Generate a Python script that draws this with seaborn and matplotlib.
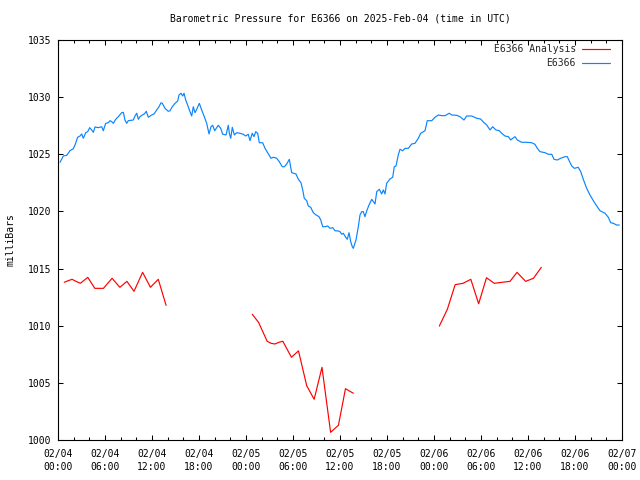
import matplotlib
matplotlib.use("Agg")
import matplotlib.pyplot as plt
import matplotlib.dates as mdates
import numpy as np
import pandas as pd
import seaborn as sns

# ---------------- data (hours after 2025-02-04 00:00 UTC, pressure in mb) ----------------
start = pd.Timestamp("2025-02-04 00:00")

station_hours = [
    0.26, 0.68, 1.11, 1.53, 1.95, 2.17, 2.51, 2.81, 3.03, 3.23, 3.54, 3.79, 4.05, 4.30, 4.51, 4.72,
    5.14, 5.58, 5.78, 6.09, 6.42, 6.64, 6.86, 7.06, 7.37, 7.70, 8.13, 8.34, 8.55, 8.77, 8.97, 9.61,
    9.83, 10.05, 10.25, 10.47, 10.76, 11.02, 11.27, 11.53, 11.96, 12.26, 12.60, 12.89, 13.15, 13.32,
    13.66, 14.08, 14.30, 14.59, 14.94, 15.28, 15.45, 15.70, 15.92, 16.09, 16.30, 16.63, 16.85, 17.07,
    17.27, 17.49, 17.71, 18.04, 18.34, 18.68, 18.98, 19.28, 19.53, 19.75, 20.00, 20.46, 20.77, 21.03,
    21.45, 21.74, 21.87, 22.05, 22.25, 22.51, 22.81, 23.23, 23.66, 23.96, 24.29, 24.51, 24.80, 25.02,
    25.24, 25.49, 25.70, 26.13, 26.43, 26.85, 27.19, 27.49, 27.92, 28.25, 28.63, 28.89, 29.20, 29.53,
    29.83, 30.38, 30.68, 31.02, 31.24, 31.44, 31.75, 31.95, 32.26, 32.59, 32.94, 33.32, 33.54, 33.79,
    34.09, 34.43, 34.72, 35.07, 35.36, 35.78, 36.00, 36.22, 36.42, 36.73, 36.93, 37.15, 37.37, 37.57,
    37.70, 38.04, 38.34, 38.55, 38.77, 38.97, 39.19, 39.41, 39.70, 40.05, 40.47, 40.69, 41.02, 41.32,
    41.53, 41.74, 41.96, 42.38, 42.73, 42.93, 43.15, 43.44, 43.66, 44.00, 44.30, 44.72, 45.15, 45.57,
    46.00, 46.30, 46.85, 47.14, 47.71, 48.13, 48.55, 48.98, 49.40, 49.95, 50.26, 50.90, 51.32, 51.83,
    52.17, 52.81, 53.45, 53.94, 54.29, 54.73, 55.15, 55.49, 55.91, 56.34, 56.64, 57.06, 57.49, 57.79,
    58.05, 58.34, 58.63, 59.20, 59.83, 60.47, 60.89, 61.19, 61.53, 62.17, 62.59, 63.03, 63.32, 63.74,
    64.17, 64.72, 65.02, 65.27, 65.58, 65.91, 66.42, 66.73, 67.06, 67.49, 67.91, 68.34, 68.77, 69.19,
    69.83, 70.25, 70.56, 70.89, 71.32, 71.66,
]
station_mb = [
    1024.30, 1024.85, 1024.91, 1025.31, 1025.49, 1025.81, 1026.49, 1026.60, 1026.78, 1026.40, 1026.89,
    1026.98, 1027.33, 1027.13, 1026.92, 1027.39, 1027.33, 1027.41, 1027.06, 1027.71, 1027.76, 1027.94,
    1027.85, 1027.71, 1028.06, 1028.29, 1028.64, 1028.67, 1028.00, 1027.71, 1027.94, 1028.00, 1028.35,
    1028.59, 1028.06, 1028.29, 1028.44, 1028.53, 1028.76, 1028.24, 1028.44, 1028.53, 1028.88, 1029.16,
    1029.51, 1029.46, 1029.02, 1028.76, 1028.81, 1029.16, 1029.46, 1029.66, 1030.19, 1030.34, 1030.10,
    1030.34, 1029.75, 1029.16, 1028.73, 1028.35, 1029.16, 1028.64, 1028.94, 1029.46, 1028.88, 1028.29,
    1027.71, 1026.78, 1027.41, 1027.54, 1027.06, 1027.54, 1027.27, 1026.75, 1026.69, 1027.54, 1026.84,
    1026.40, 1027.36, 1026.69, 1026.89, 1026.84, 1026.75, 1026.60, 1026.75, 1026.19, 1026.84, 1026.54,
    1026.98, 1026.84, 1026.01, 1026.01, 1025.52, 1025.03, 1024.65, 1024.74, 1024.65, 1024.35, 1023.91,
    1023.91, 1024.15, 1024.56, 1023.39, 1023.28, 1022.81, 1022.51, 1021.88, 1021.15, 1020.94, 1020.48,
    1020.36, 1019.89, 1019.69, 1019.54, 1019.25, 1018.66, 1018.66, 1018.73, 1018.52, 1018.58, 1018.31,
    1018.29, 1018.23, 1018.00, 1018.09, 1017.74, 1017.56, 1018.14, 1017.35, 1016.91, 1016.77, 1017.50,
    1018.66, 1019.69, 1019.98, 1019.98, 1019.54, 1020.04, 1020.56, 1021.06, 1020.65, 1021.73, 1021.94,
    1021.53, 1021.88, 1021.53, 1022.46, 1022.84, 1022.99, 1023.91, 1023.98, 1024.94, 1025.44, 1025.31,
    1025.52, 1025.52, 1025.90, 1025.96, 1026.40, 1026.84, 1027.06, 1027.94, 1027.94, 1028.24, 1028.44,
    1028.38, 1028.38, 1028.59, 1028.44, 1028.41, 1028.29, 1028.00, 1028.35, 1028.35, 1028.15, 1028.09,
    1027.83, 1027.56, 1027.13, 1027.41, 1027.13, 1027.06, 1026.84, 1026.60, 1026.54, 1026.25, 1026.40,
    1026.54, 1026.25, 1026.05, 1026.05, 1026.01, 1025.87, 1025.52, 1025.23, 1025.14, 1025.00, 1025.00,
    1024.56, 1024.50, 1024.65, 1024.79, 1024.79, 1024.41, 1023.98, 1023.77, 1023.86, 1023.48, 1022.81,
    1022.02, 1021.44, 1020.94, 1020.48, 1020.06, 1019.84, 1019.49, 1019.01, 1018.96, 1018.81, 1018.81,
]

analysis1_hours = [0.8, 1.3, 1.8, 2.3, 2.85, 3.8, 4.7, 5.8, 6.9, 7.9, 8.8, 9.7, 10.8, 11.8, 12.8, 13.8]
analysis1_mb = [1013.80, 1013.94, 1014.06, 1013.88, 1013.71, 1014.23, 1013.27, 1013.27,
                1014.15, 1013.36, 1013.88, 1013.01, 1014.67, 1013.36, 1014.06, 1011.78]
analysis2_hours = [24.8, 25.6, 26.7, 27.2, 27.7, 28.2, 28.7, 29.8, 30.7, 31.75, 32.7, 33.7,
                   34.8, 35.8, 36.7, 37.7]
analysis2_mb = [1011.00, 1010.30, 1008.64, 1008.46, 1008.40, 1008.55, 1008.64, 1007.24,
                1007.80, 1004.75, 1003.56, 1006.36, 1000.67, 1001.29, 1004.49, 1004.09]
analysis3_hours = [48.68, 49.7, 50.7, 51.7, 52.7, 53.7, 54.7, 55.7, 56.7, 57.7, 58.6, 59.7,
                   60.7, 61.7]
analysis3_mb = [1009.97, 1011.43, 1013.59, 1013.71, 1014.06, 1011.92, 1014.20, 1013.71,
                1013.80, 1013.88, 1014.67, 1013.88, 1014.15, 1015.11]

y_ticks = [1000, 1005, 1010, 1015, 1020, 1025, 1030, 1035]
title = "Barometric Pressure for E6366 on 2025-Feb-04 (time in UTC)"
y_label = "milliBars"
legend_labels = ["E6366 Analysis", "E6366"]

# ---------------- frames ----------------
def to_time(hours):
    return start + pd.to_timedelta(np.asarray(hours), unit="h")

df_station = pd.DataFrame({"time": to_time(station_hours), "mb": station_mb})
parts = []
for seg, (h, p) in enumerate([(analysis1_hours, analysis1_mb),
                              (analysis2_hours, analysis2_mb),
                              (analysis3_hours, analysis3_mb)]):
    parts.append(pd.DataFrame({"time": to_time(h), "mb": p, "segment": seg}))
df_analysis = pd.concat(parts, ignore_index=True)

# ---------------- style ----------------
sns.set_theme(style="ticks")
plt.rcParams["font.family"] = ["DejaVu Sans Mono", "DejaVu Sans"]
plt.rcParams["font.size"] = 7
plt.rcParams["axes.linewidth"] = 0.8
plt.rcParams["axes.edgecolor"] = "black"

fig = plt.figure(figsize=(6.4, 4.8), dpi=100)
ax = fig.add_axes([58 / 640, 40 / 480, 564 / 640, 400 / 480])

red = "#ff0000"
blue = "#0a84ff"
sns.lineplot(data=df_analysis, x="time", y="mb", units="segment", estimator=None,
             color=red, lw=0.85, ax=ax, legend=False)
n_red = len(ax.lines)
sns.lineplot(data=df_station, x="time", y="mb", estimator=None,
             color=blue, lw=0.85, ax=ax, legend=False)

ax.set_xlim(start, start + pd.Timedelta(hours=72))
ax.set_ylim(1000, 1035)
ax.set_yticks(y_ticks)
ax.xaxis.set_major_locator(mdates.HourLocator(byhour=[0, 6, 12, 18]))
ax.xaxis.set_minor_locator(mdates.HourLocator(byhour=list(range(0, 24, 2))))
ax.xaxis.set_major_formatter(mdates.DateFormatter("%m/%d\n%H:%M"))

for side in ["top", "right", "left", "bottom"]:
    ax.spines[side].set_visible(True)
    ax.spines[side].set_color("black")
    ax.spines[side].set_linewidth(0.8)

ax.tick_params(which="both", direction="in", top=True, right=True, color="black",
               width=0.75, labelcolor="black", labelsize=7)
ax.tick_params(which="major", length=3.5)
ax.tick_params(which="minor", length=2.0)
ax.tick_params(axis="x", which="major", pad=6.5)
ax.tick_params(axis="y", which="major", pad=4.5)

ax.set_xlabel("")
ax.set_ylabel(y_label, fontsize=7, color="black")
ax.yaxis.set_label_coords(-0.076, 0.5)
ax.set_title(title, fontsize=7, color="black", pad=13.5)

handles = [ax.lines[0], ax.lines[n_red]]
ax.legend(handles, legend_labels, loc="upper right", bbox_to_anchor=(0.9787, 0.99),
          frameon=False, markerfirst=False, fontsize=7, handlelength=2.9,
          handletextpad=0.6, labelspacing=0.45, borderpad=0, borderaxespad=0)

fig.canvas.draw()
for lbl in ax.get_xticklabels():
    lbl.set_linespacing(1.35)

fig.savefig("out.png", dpi=100, facecolor="white")
